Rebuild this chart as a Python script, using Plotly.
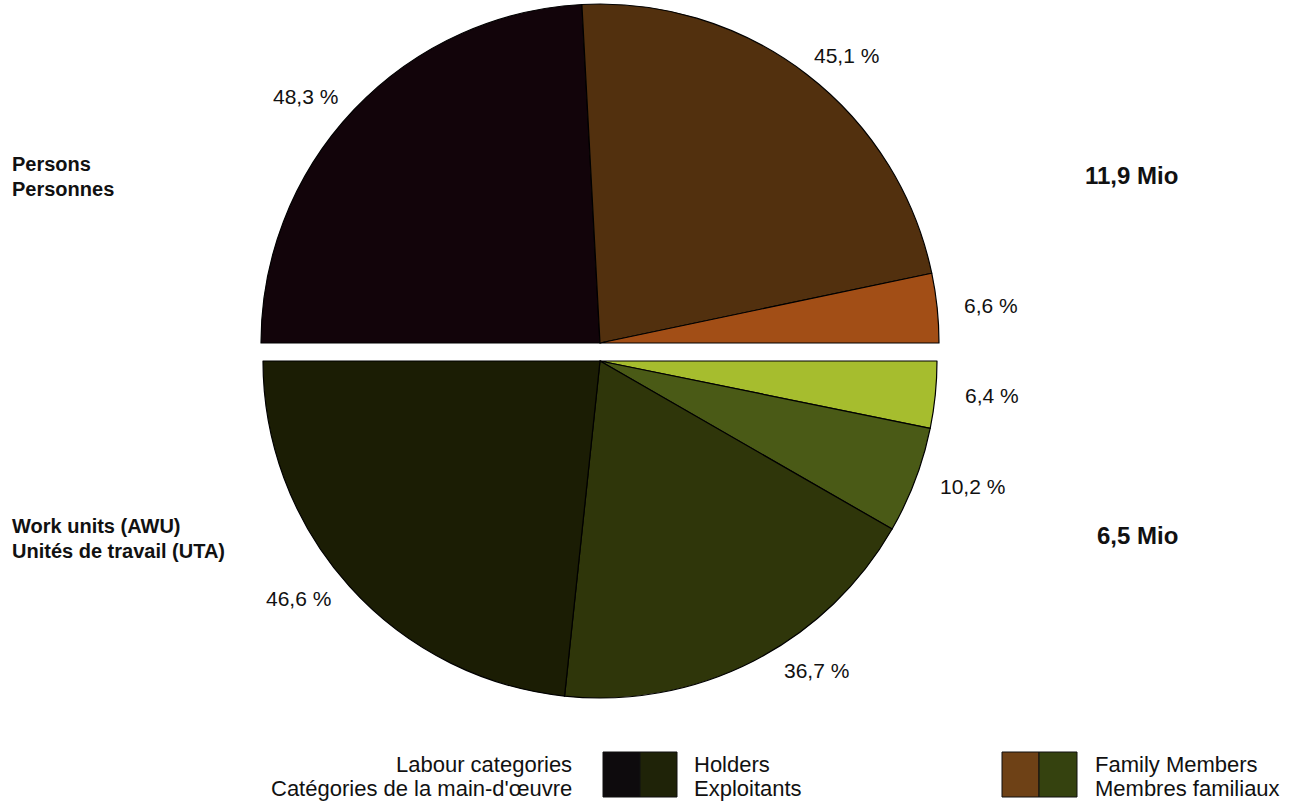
import plotly.graph_objects as go

W, H = 1312, 802

# ---- data ----
categories_top = ["Holders", "Family Members", "Other"]
persons_share = [48.3, 45.1, 6.6]
categories_bottom = ["Holders", "Family Members", "Other 1", "Other 2"]
awu_share = [46.6, 36.7, 10.2, 6.4]
persons_total = "11,9 Mio"
awu_total = "6,5 Mio"

colors_top = ["#12040a", "#52300e", "#a24e16"]
colors_bottom = ["#1b1d04", "#2f360a", "#4a5a16", "#a6bd2e"]

FONT = "Liberation Sans, Arial, sans-serif"


def px(x):
    return x / W


def py(y):
    return 1 - y / H


def fmt(v):
    return f"{v:.1f}".replace(".", ",") + " %"


fig = go.Figure()

# top half (persons): start at 9 o'clock, clockwise over the top
fig.add_trace(go.Pie(
    values=persons_share + [sum(persons_share)],
    labels=categories_top + ["_blank"],
    sort=False, direction="clockwise", rotation=-90,
    marker=dict(colors=colors_top + ["rgba(0,0,0,0)"],
                line=dict(color=["#000000"] * 3 + ["rgba(0,0,0,0)"], width=1.2)),
    textinfo="none", hoverinfo="skip", showlegend=False,
    domain=dict(x=[px(261), px(939)], y=[py(682), py(4)]),
))

# bottom half (work units): drawn from 3 o'clock clockwise down to 9 o'clock
fig.add_trace(go.Pie(
    values=awu_share[::-1] + [sum(awu_share)],
    labels=categories_bottom[::-1] + ["_blank"],
    sort=False, direction="clockwise", rotation=90,
    marker=dict(colors=colors_bottom[::-1] + ["rgba(0,0,0,0)"],
                line=dict(color=["#000000"] * 4 + ["rgba(0,0,0,0)"], width=1.2)),
    textinfo="none", hoverinfo="skip", showlegend=False,
    domain=dict(x=[px(263), px(937)], y=[py(698), py(24)]),
))

annotations = []


def ann(text, x, y, size=21, bold=False, xanchor="center"):
    annotations.append(dict(
        text=f"<b>{text}</b>" if bold else text,
        x=px(x), y=py(y), xref="paper", yref="paper",
        xanchor=xanchor, yanchor="middle", showarrow=False,
        font=dict(family=FONT, size=size, color="#111111"),
    ))


# percentage labels
top_pos = [(305, 97), (846, 56), (991, 305)]
for v, (x, y) in zip(persons_share, top_pos):
    ann(fmt(v), x, y)
bot_pos = [(298, 598), (816, 670), (972, 486), (992, 395)]
for v, (x, y) in zip(awu_share, bot_pos):
    ann(fmt(v), x, y)

# side labels
ann("Persons", 10, 164, size=20, bold=True, xanchor="left")
ann("Personnes", 10, 189, size=20, bold=True, xanchor="left")
ann("Work units (AWU)", 10, 526, size=20, bold=True, xanchor="left")
ann("Unités de travail (UTA)", 10, 551, size=20, bold=True, xanchor="left")
ann(persons_total, 1083, 175, size=24, bold=True, xanchor="left")
ann(awu_total, 1095, 535, size=24, bold=True, xanchor="left")

# legend texts
ann("Labour categories", 574, 764, size=22, xanchor="right")
ann("Catégories de la main-d'œuvre", 574, 788, size=22, xanchor="right")
ann("Holders", 692, 764, size=22, xanchor="left")
ann("Exploitants", 692, 788, size=22, xanchor="left")
ann("Family Members", 1093, 764, size=22, xanchor="left")
ann("Membres familiaux", 1093, 788, size=22, xanchor="left")

shapes = []


def swatch(x0, x1, color):
    shapes.append(dict(type="rect", xref="paper", yref="paper",
                       x0=px(x0), x1=px(x1), y0=py(797), y1=py(752),
                       fillcolor=color, line=dict(color="#111111", width=1)))


swatch(603, 640, "#0e0b0d")
swatch(640, 677, "#1f2308")
swatch(1002, 1039, "#6e4116")
swatch(1039, 1077, "#35420f")

fig.update_layout(
    width=W, height=H,
    margin=dict(l=0, r=0, t=0, b=0),
    paper_bgcolor="white", plot_bgcolor="white",
    annotations=annotations, shapes=shapes,
    showlegend=False,
)

fig.write_html("out.html", config={"displayModeBar": False},
               post_script="document.body.style.margin='0';")
